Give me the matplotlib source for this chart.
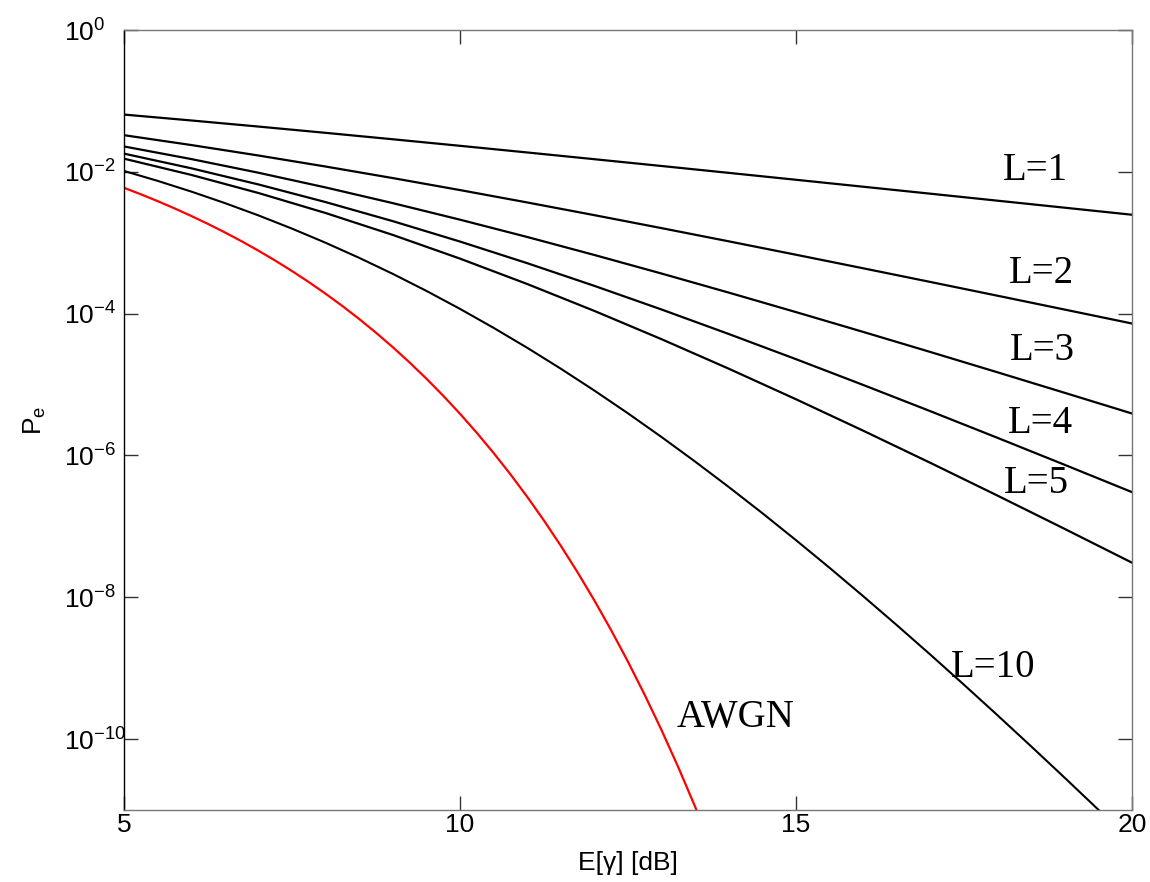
import matplotlib
matplotlib.use('Agg')
import matplotlib.pyplot as plt
import numpy as np
from matplotlib.ticker import FixedLocator, FuncFormatter, NullLocator

plt.rcParams['font.family'] = ['Liberation Sans', 'DejaVu Sans']
plt.rcParams['mathtext.fontset'] = 'custom'
plt.rcParams['mathtext.rm'] = 'Liberation Sans'
plt.rcParams['mathtext.it'] = 'Liberation Sans'
plt.rcParams['mathtext.default'] = 'regular'

# ---------------- data ----------------
snr_db = [5, 6, 7, 8, 9, 10, 11, 12, 13, 14, 15, 16, 17, 18, 19, 20]

pe_L1 = [6.418e-2, 5.300e-2, 4.348e-2, 3.546e-2, 2.878e-2, 2.327e-2, 1.875e-2, 1.506e-2,
         1.208e-2, 9.665e-3, 7.723e-3, 6.164e-3, 4.915e-3, 3.916e-3, 3.118e-3, 2.481e-3]
pe_L2 = [3.286e-2, 2.387e-2, 1.699e-2, 1.187e-2, 8.161e-3, 5.528e-3, 3.698e-3, 2.448e-3,
         1.606e-3, 1.046e-3, 6.770e-4, 4.360e-4, 2.797e-4, 1.788e-4, 1.140e-4, 7.257e-5]
pe_L3 = [2.280e-2, 1.514e-2, 9.708e-3, 6.019e-3, 3.618e-3, 2.114e-3, 1.205e-3, 6.716e-4,
         3.675e-4, 1.979e-4, 1.051e-4, 5.524e-5, 2.877e-5, 1.487e-5, 7.637e-6, 3.904e-6]
pe_L4 = [1.805e-2, 1.122e-2, 6.637e-3, 3.742e-3, 2.015e-3, 1.039e-3, 5.148e-4, 2.463e-4,
         1.143e-4, 5.161e-5, 2.279e-5, 9.868e-6, 4.207e-6, 1.770e-6, 7.367e-7, 3.039e-7]
pe_L5 = [1.533e-2, 9.053e-3, 5.028e-3, 2.624e-3, 1.288e-3, 5.967e-4, 2.617e-4, 1.092e-4,
         4.357e-5, 1.672e-5, 6.201e-6, 2.235e-6, 7.862e-7, 2.711e-7, 9.191e-8, 3.074e-8]

snr_db_L10 = [5, 5.5, 6, 6.5, 7, 7.5, 8, 8.5, 9, 9.5, 10, 10.5, 11, 11.5, 12, 12.5,
              13, 13.5, 14, 14.5, 15, 15.5, 16, 16.5, 17, 17.5, 18, 18.5, 19, 19.5, 20]
pe_L10 = [1.029e-2, 7.457e-3, 5.269e-3, 3.627e-3, 2.429e-3, 1.581e-3, 9.987e-4, 6.119e-4,
          3.637e-4, 2.093e-4, 1.167e-4, 6.303e-5, 3.299e-5, 1.673e-5, 8.222e-6, 3.924e-6,
          1.817e-6, 8.182e-7, 3.587e-7, 1.533e-7, 6.386e-8, 2.602e-8, 1.036e-8, 4.046e-9,
          1.551e-9, 5.837e-10, 2.162e-10, 7.891e-11, 2.840e-11, 1.009e-11, 3.547e-12]

awgn_db = [5, 5.25, 5.5, 5.75, 6, 6.25, 6.5, 6.75, 7, 7.25, 7.5, 7.75, 8, 8.25, 8.5, 8.75,
           9, 9.25, 9.5, 9.75, 10, 10.25, 10.5, 10.75, 11, 11.25, 11.5, 11.75, 12, 12.25,
           12.5, 12.75, 13, 13.25, 13.5, 13.75, 14]
pe_awgn = [5.954e-3, 4.823e-3, 3.862e-3, 3.056e-3, 2.388e-3, 1.841e-3, 1.400e-3, 1.049e-3,
           7.727e-4, 5.602e-4, 3.989e-4, 2.787e-4, 1.909e-4, 1.281e-4, 8.401e-5, 5.382e-5,
           3.363e-5, 2.047e-5, 1.211e-5, 6.956e-6, 3.872e-6, 2.085e-6, 1.084e-6, 5.428e-7,
           2.613e-7, 1.206e-7, 5.328e-8, 2.246e-8, 9.006e-9, 3.423e-9, 1.233e-9, 4.180e-10,
           1.333e-10, 3.976e-11, 1.106e-11, 2.854e-12, 6.810e-13]

curve_labels = ['L=1', 'L=2', 'L=3', 'L=4', 'L=5', 'L=10', 'AWGN']
x_ticks = [5, 10, 15, 20]
y_ticks = [1e0, 1e-2, 1e-4, 1e-6, 1e-8, 1e-10]
x_label = 'E[γ] [dB]'
y_label = 'P$_e$'

# ---------------- figure ----------------
fig = plt.figure(figsize=(11.5, 8.82), dpi=100)
ax = fig.add_axes([124 / 1150, 72 / 882, 1008 / 1150, 780 / 882])

for series in [pe_L1, pe_L2, pe_L3, pe_L4, pe_L5]:
    ax.plot(snr_db, series, color='black', lw=1.6, solid_joinstyle='round')
ax.plot(snr_db_L10, pe_L10, color='black', lw=1.5, solid_joinstyle='round')
ax.plot(awgn_db, pe_awgn, color='red', lw=1.6, solid_joinstyle='round')

ax.set_yscale('log')
ax.set_xlim(5, 20)
ax.set_ylim(1e-11, 1)

ax.xaxis.set_major_locator(FixedLocator(x_ticks))
ax.yaxis.set_major_locator(FixedLocator(y_ticks))
ax.yaxis.set_minor_locator(NullLocator())
ax.xaxis.set_minor_locator(NullLocator())
ax.yaxis.set_major_formatter(FuncFormatter(lambda v, p: r'$10^{%d}$' % int(round(np.log10(v)))))
ax.xaxis.set_major_formatter(FuncFormatter(lambda v, p: '%d' % v))

ax.tick_params(direction='in', length=10, width=1, top=True, right=True,
               labelsize=19, color='#333333')
ax.tick_params(axis='x', pad=2)
ax.tick_params(axis='y', pad=43)
plt.setp(ax.get_yticklabels(), ha='left')

for name, sp in ax.spines.items():
    sp.set_linewidth(1)
    sp.set_color('black' if name == 'left' else '#777777')

ax.set_xlabel(x_label, fontsize=19, labelpad=10)
ax.set_ylabel(y_label, fontsize=19, labelpad=12)

label_pos = [(0.9038, 0.8077), (0.9097, 0.6756), (0.9107, 0.5769), (0.9087, 0.4833),
             (0.9048, 0.4064), (0.8621, 0.1705), (0.6071, 0.1064)]
for txt, (fx, fy) in zip(curve_labels, label_pos):
    ax.text(fx, fy, txt, transform=ax.transAxes, fontsize=28,
            family=['Liberation Serif', 'DejaVu Serif'], ha='center', va='baseline')

fig.savefig('out.png', dpi=100, facecolor='white')
